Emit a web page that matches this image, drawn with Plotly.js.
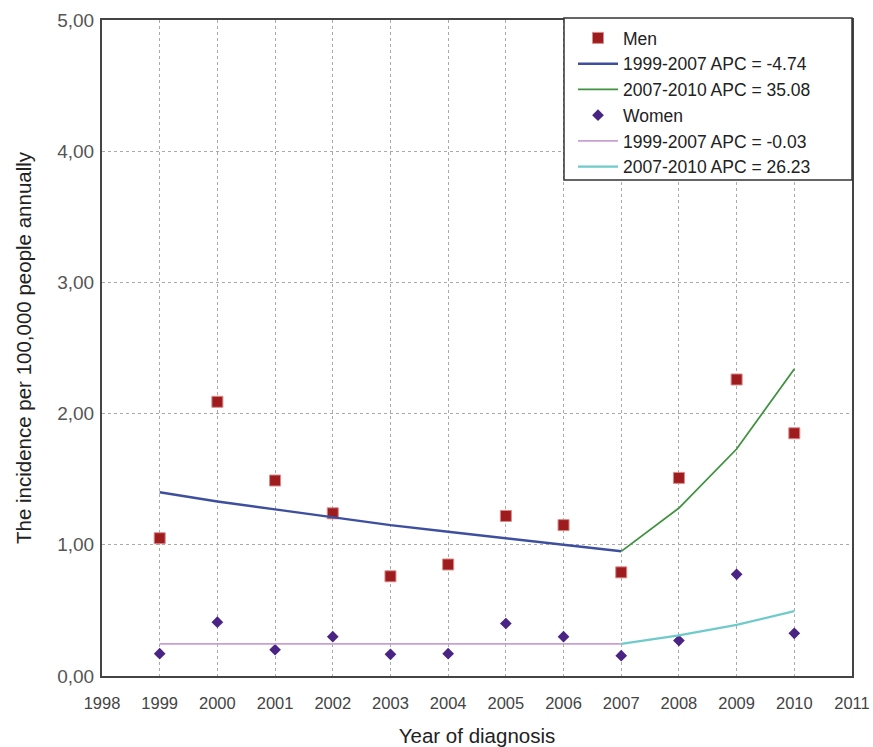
<!DOCTYPE html>
<html><head><meta charset="utf-8">
<script src="https://cdn.plot.ly/plotly-3.0.1.min.js"></script>
<style>html,body{margin:0;padding:0;background:#fff}#chart{width:873px;height:747px}</style>
</head><body><div id="chart"></div>
<script>
const years = [1999,2000,2001,2002,2003,2004,2005,2006,2007,2008,2009,2010];
const menObserved = [1.05,2.09,1.49,1.24,0.76,0.85,1.22,1.15,0.79,1.51,2.26,1.85];
const womenObserved = [0.17,0.41,0.20,0.30,0.165,0.17,0.40,0.30,0.155,0.27,0.775,0.325];
const trendYears1 = [1999,2000,2001,2002,2003,2004,2005,2006,2007];
const trendYears2 = [2007,2008,2009,2010];
const menTrend1 = [1.40,1.33,1.27,1.21,1.15,1.10,1.05,1.00,0.95];
const menTrend2 = [0.95,1.28,1.73,2.34];
const womenTrend1 = [0.245,0.245,0.245,0.245,0.245,0.245,0.245,0.245,0.245];
const womenTrend2 = [0.245,0.31,0.39,0.495];
const xTicks = [1998,1999,2000,2001,2002,2003,2004,2005,2006,2007,2008,2009,2010,2011];
const yTicks = [0,1,2,3,4,5];
const yTickText = ["0,00","1,00","2,00","3,00","4,00","5,00"];
const names = ["Men","1999-2007 APC = -4.74","2007-2010 APC = 35.08","Women","1999-2007 APC = -0.03","2007-2010 APC = 26.23"];

const traces = [
  {x: years, y: menObserved, mode:'markers', name:names[0], type:'scatter',
   marker:{symbol:'square', size:11, color:'#9e1b1e', line:{color:'#d98a8a', width:1}}},
  {x: trendYears1, y: menTrend1, mode:'lines', name:names[1], type:'scatter',
   line:{color:'#3f4f9f', width:2.5}},
  {x: trendYears2, y: menTrend2, mode:'lines', name:names[2], type:'scatter',
   line:{color:'#3f923f', width:1.8}},
  {x: years, y: womenObserved, mode:'markers', name:names[3], type:'scatter',
   marker:{symbol:'diamond', size:9, color:'#4a2484'}},
  {x: trendYears1, y: womenTrend1, mode:'lines', name:names[4], type:'scatter',
   line:{color:'#c8a0d4', width:1.6}},
  {x: trendYears2, y: womenTrend2, mode:'lines', name:names[5], type:'scatter',
   line:{color:'#6fcaca', width:2.2}}
];

const layout = {
  width: 873, height: 747,
  margin: {l:102, r:21, t:20, b:71},
  paper_bgcolor:'#fff', plot_bgcolor:'#fff',
  font: {family:'Liberation Sans, Arial, sans-serif', color:'#333'},
  showlegend: true,
  legend: {x:0.628, xanchor:'left', y:1, yanchor:'top', bgcolor:'rgba(0,0,0,0)',
    borderwidth:0, font:{size:17.5, color:'#222'},
    itemwidth:40, tracegroupgap:0, traceorder:'normal'},
  shapes: [{type:'rect', xref:'paper', yref:'paper', x0:0.616, x1:1, y0:0.756, y1:1.003,
    fillcolor:'#fff', line:{color:'#333', width:1.5}, layer:'above'}],
  xaxis: {range:[1998,2011], tickmode:'array', tickvals:xTicks, ticktext:xTicks.map(String),
    showgrid:true, gridcolor:'#aaa', griddash:'dot', gridwidth:1,
    zeroline:false, showline:true, linecolor:'#444', linewidth:2, mirror:true,
    ticks:'', ticklabelstandoff:11, tickfont:{size:16.5, color:'#444'},
    title:{text:'Year of diagnosis', font:{size:20.5, color:'#222'}, standoff:20}},
  yaxis: {range:[0,5], tickmode:'array', tickvals:yTicks, ticktext:yTickText,
    showgrid:true, gridcolor:'#aaa', griddash:'dot', gridwidth:1,
    zeroline:false, showline:true, linecolor:'#444', linewidth:2, mirror:true,
    ticks:'', ticklabelstandoff:2, tickfont:{size:19, color:'#555'},
    title:{text:'The incidence per 100,000 people annually', font:{size:20.5, color:'#222'}, standoff:20}}
};
Plotly.newPlot('chart', traces, layout, {displayModeBar:false, staticPlot:true});
</script></body></html>
